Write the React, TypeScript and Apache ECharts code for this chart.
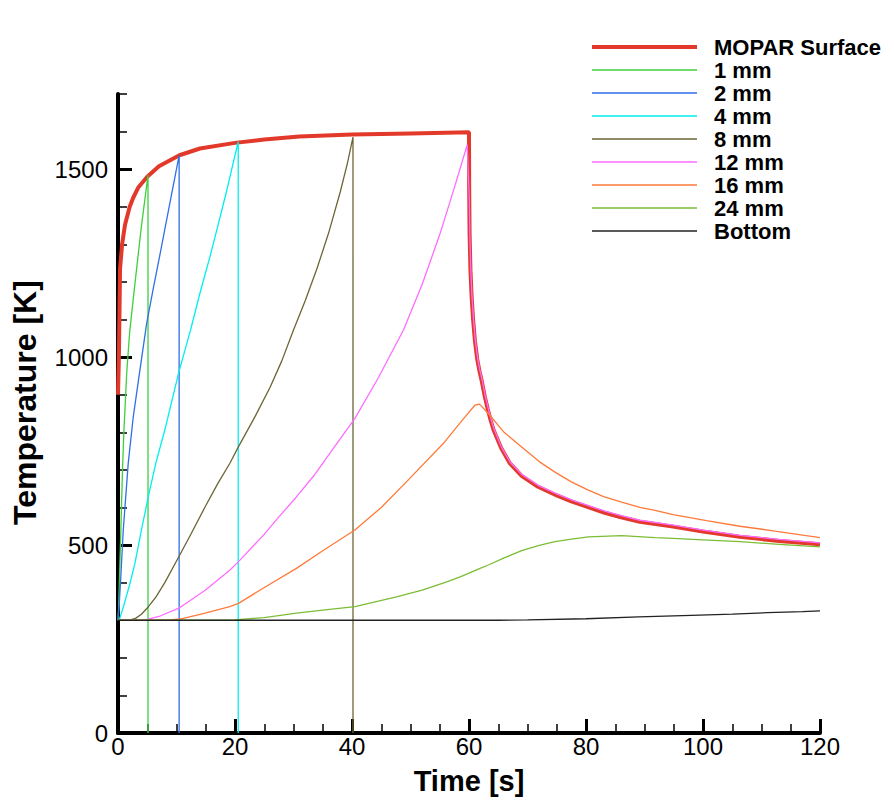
import React, { useEffect, useRef } from 'react';
import * as echarts from 'echarts';

type Pt = [number, number];

const seriesNames = ['MOPAR Surface', '1 mm', '2 mm', '4 mm', '8 mm', '12 mm', '16 mm', '24 mm', 'Bottom'];
const yMajorTicks = [0, 500, 1000, 1500];

const surface: Pt[] = [
  [0, 900], [0.15, 1000], [0.35, 1235], [0.7, 1300], [1.2, 1352], [2, 1400], [2.6, 1424], [3.5, 1452],
  [5, 1480], [7, 1508], [10.5, 1537], [14, 1555], [20, 1570], [25, 1579], [31, 1587], [40, 1592],
  [50, 1595], [60, 1598], [60.03, 1450], [60.1, 1330], [60.25, 1230], [60.45, 1160], [60.7, 1100],
  [61, 1045], [61.4, 995], [61.8, 962], [62.2, 935], [62.7, 895], [63.2, 862], [63.7, 832], [64.2, 806],
  [65.5, 758], [67, 717], [69, 684], [71.8, 655], [75, 632],
  [77.5, 616], [80, 603], [83.2, 586], [86, 574], [89.2, 562], [94.9, 549], [100, 536], [106.3, 522],
  [113, 511], [120, 502],
];

const mm1: Pt[] = [
  [0, 300], [0.1, 330], [0.3, 440], [0.5, 545], [0.75, 690], [1, 800], [1.5, 960], [2, 1068],
  [3, 1210], [4, 1348], [5.13, 1484], [5.13, 0],
];

const mm2: Pt[] = [
  [0, 300], [0.2, 340], [0.45, 407], [0.9, 540], [1.75, 718], [2.6, 840], [3.5, 939], [4.9, 1090],
  [6, 1180], [7.2, 1275], [8, 1340], [9, 1420], [10.45, 1537], [10.45, 0],
];

const mm4: Pt[] = [
  [0, 300], [0.3, 305], [1, 340], [2, 395], [2.9, 452], [4, 540], [5.2, 630], [6.5, 720], [8, 806],
  [10.4, 960], [12.4, 1072], [14, 1170], [15.7, 1266], [17, 1345], [18.6, 1444], [20.55, 1573], [20.55, 0],
];

const mm8: Pt[] = [
  [0, 300], [2, 300], [3, 305], [4, 316], [5.2, 336], [6.5, 362], [8, 400], [10.4, 469], [12.5, 530],
  [14.9, 602], [17, 662], [19.1, 717], [20.6, 762], [23.4, 841], [26, 920], [28, 990], [30, 1072],
  [32, 1150], [34, 1235], [36, 1330], [38, 1440], [39.2, 1515], [40.17, 1585], [40.17, 0],
];

const mm12: Pt[] = [
  [0, 300], [4.5, 300], [7, 310], [10.4, 332], [14.9, 380], [19.1, 433], [20.6, 456], [23.4, 502],
  [24.8, 525], [27.5, 575], [30.5, 628], [33.5, 685], [36.2, 744], [40.5, 837], [44.5, 945],
  [48.8, 1072], [52, 1194], [55, 1326], [57.5, 1451], [59.7, 1565], [60.05, 1420], [60.15, 1320],
  [60.3, 1235], [60.5, 1165], [60.75, 1105], [61.05, 1050], [61.45, 999], [61.85, 966], [62.25, 939],
  [62.75, 899], [63.25, 866], [63.75, 836], [64.25, 810], [65.5, 762],
  [67, 721], [69, 688], [71.8, 659], [75, 636], [77.5, 620], [80, 607], [83.2, 590], [86, 578],
  [89.2, 566], [94.9, 553], [100, 540], [106.3, 526], [113, 515], [120, 506],
];

const mm16: Pt[] = [
  [0, 300], [8.5, 300], [11, 304], [14.9, 319], [19.1, 336], [20.6, 345], [24.8, 385], [30.5, 438],
  [35, 485], [40.5, 540], [45, 600], [49.3, 668], [55.6, 770], [59, 835], [61, 872], [61.8, 875],
  [63.3, 850], [66, 800], [69, 761], [72, 722], [74.7, 694], [77.5, 668], [80.4, 646], [83, 629],
  [86.1, 614], [89.2, 600], [91.8, 592], [94.9, 581], [100.6, 565], [106.3, 550], [112, 538], [120, 520],
];

const mm24: Pt[] = [
  [0, 300], [15, 300], [20, 301], [25, 307], [30.5, 319], [35, 327], [40.5, 336], [47.6, 362],
  [52, 380], [56.2, 402], [58.6, 416], [61.9, 438], [63.3, 447], [66, 466], [69, 485], [72, 499],
  [74.7, 509], [77.5, 516], [80.4, 522], [86.1, 525], [91.8, 520], [94.9, 518], [100, 514], [106.3, 509],
  [113, 502], [120, 495],
];

const bottom: Pt[] = [
  [0, 300], [65, 300], [70, 301], [80, 304], [89, 309], [98, 313], [105, 316], [111, 320],
  [117, 323], [120, 325],
];

const seriesData: Pt[][] = [surface, mm1, mm2, mm4, mm8, mm12, mm16, mm24, bottom];
const seriesColors = ['#e2392a', '#3fcf3f', '#2f6fe8', '#00eeee', '#6b6535', '#ff6cff', '#ff7a3a', '#7cbd36', '#222222'];
const seriesWidths = [4, 1.3, 1.3, 1.3, 1.3, 1.3, 1.3, 1.3, 1.3];

const FONT = '"Liberation Sans", Arial, Helvetica, sans-serif';

const legendIcon = (w: number) => `path://M0,0 H105 V${w} H0 Z`;

export default function App() {
  const ref = useRef<HTMLDivElement>(null);

  useEffect(() => {
    if (!ref.current) return;
    const chart = echarts.init(ref.current, undefined, { renderer: 'svg' });
    const option: any = {
      animation: false,
      backgroundColor: '#ffffff',
      grid: { left: 118, right: 74, top: 94, bottom: 71, containLabel: false },
      legend: {
        orient: 'vertical',
        left: 592,
        top: 36,
        padding: 0,
        itemWidth: 105,
        itemHeight: 12,
        itemGap: 1,
        symbolKeepAspect: true,
        selectedMode: false,
        data: seriesNames.map((name, i) => ({
          name,
          icon: legendIcon(seriesWidths[i]),
          itemStyle: { color: seriesColors[i] },
        })),
        textStyle: {
          fontFamily: FONT,
          fontSize: 22,
          fontWeight: 'bold',
          color: '#000',
          lineHeight: 22,
          padding: [0, 0, 0, 12],
        },
      },
      xAxis: {
        type: 'value',
        min: 0,
        max: 120,
        interval: 20,
        name: 'Time [s]',
        nameLocation: 'middle',
        nameGap: 33,
        nameTextStyle: { fontFamily: FONT, fontSize: 29, fontWeight: 'bold', color: '#000' },
        axisLine: { show: true, lineStyle: { color: '#000', width: 4 } },
        axisTick: { show: true, inside: true, length: 14, lineStyle: { color: '#000', width: 3 } },
        minorTick: { show: true, splitNumber: 4, length: 9, lineStyle: { color: '#000', width: 1.5 } },
        axisLabel: { fontFamily: FONT, fontSize: 24, color: '#000', margin: 1 },
        splitLine: { show: false },
      },
      yAxis: [
        {
          type: 'value',
          min: 0,
          max: 1700,
          interval: 100,
          position: 'left',
          name: 'Temperature [K]',
          nameLocation: 'middle',
          nameRotate: 90,
          nameGap: 77,
          nameTextStyle: {
            fontFamily: FONT,
            fontSize: 32,
            fontWeight: 'bold',
            color: '#000',
            padding: [0, 0, 0, 22],
          },
          axisLine: { show: true, lineStyle: { color: '#000', width: 4 } },
          axisTick: { show: true, inside: true, length: 9, lineStyle: { color: '#000', width: 1.5 } },
          axisLabel: { show: false },
          splitLine: { show: false },
        },
        {
          type: 'value',
          min: 0,
          max: 1700,
          interval: 500,
          position: 'left',
          offset: 0,
          axisLine: { show: true, lineStyle: { color: 'rgba(0,0,0,0)', width: 0 } },
          axisTick: {
            show: true,
            inside: true,
            length: 14,
            customValues: yMajorTicks,
            lineStyle: { color: '#000', width: 3 },
          },
          axisLabel: {
            fontFamily: FONT,
            fontSize: 24,
            color: '#000',
            margin: 10,
            customValues: yMajorTicks,
            formatter: (v: number) => String(v),
          },
          splitLine: { show: false },
        },
      ],
      series: seriesNames.map((name, i) => ({
        name,
        type: 'line',
        data: seriesData[i],
        yAxisIndex: 0,
        symbol: 'none',
        showSymbol: false,
        smooth: false,
        z: i === 0 ? 3 : 4,
        lineStyle: { color: seriesColors[i], width: seriesWidths[i] },
        itemStyle: { color: seriesColors[i] },
        emphasis: { disabled: true },
      })),
    };
    chart.setOption(option);
    return () => chart.dispose();
  }, []);

  return (
    <div
      ref={ref}
      style={{ position: 'absolute', left: 0, top: 0, width: 894, height: 804, background: '#fff' }}
    />
  );
}
